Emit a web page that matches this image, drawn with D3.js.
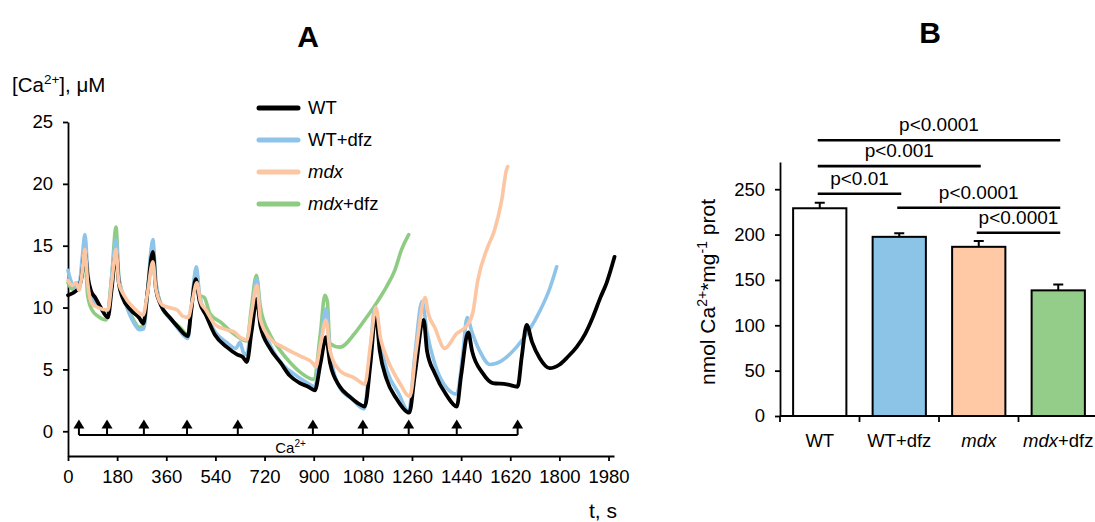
<!DOCTYPE html>
<html>
<head>
<meta charset="utf-8">
<script src="https://cdn.jsdelivr.net/npm/d3@7"></script>
<style>
  body { margin: 0; background: #fff; }
  text { font-family: "Liberation Sans", Arial, sans-serif; fill: #000; }
</style>
</head>
<body>
<svg width="1095" height="522"></svg>
<script>
// ---- Panel A: [Ca2+] traces, [t (s), uM] ----
const wt = [[0,11.0],[20,11.2],[40,11.6],[50,12.5],[62,14.5],[72,12.5],[85,11.3],[100,10.8],[120,10.0],[146,9.2],[160,11.5],[176,14.5],[186,12.0],[200,10.8],[230,9.8],[260,9.2],[276,8.7],[290,11.0],[311,14.5],[322,11.5],[340,10.2],[373,9.2],[400,8.5],[439,7.7],[450,9.5],[468,12.3],[482,10.5],[505,9.4],[538,7.8],[582,6.8],[620,6.2],[640,6.0],[655,5.6],[672,8.0],[692,10.7],[705,8.5],[740,6.7],[780,5.5],[812,4.5],[849,3.9],[880,3.6],[904,3.3],[925,5.5],[945,7.6],[960,5.5],[996,3.6],[1032,2.8],[1060,2.3],[1087,2.0],[1108,5.5],[1127,9.5],[1142,6.5],[1167,4.2],[1204,2.6],[1230,1.8],[1250,1.5],[1270,4.5],[1303,9.0],[1315,6.5],[1343,4.7],[1387,2.9],[1424,2.0],[1440,4.5],[1466,8.0],[1480,6.5],[1519,4.7],[1556,3.9],[1607,3.8],[1647,3.6],[1662,6.0],[1680,8.6],[1700,7.2],[1728,5.9],[1764,5.1],[1801,5.4],[1830,6.0],[1863,6.8],[1895,7.9],[1922,9.2],[1950,10.8],[1973,12.0],[2002,14.1]];
const wtDfz = [[0,13.0],[10,12.2],[25,11.6],[42,12.0],[52,14.0],[62,15.9],[72,13.0],[88,10.8],[110,10.2],[146,9.4],[160,12.5],[176,15.5],[186,12.5],[205,10.8],[240,8.8],[262,8.2],[278,8.3],[292,11.5],[311,15.5],[322,12.0],[345,10.0],[380,9.0],[410,8.1],[439,7.5],[452,10.0],[470,13.3],[482,11.0],[505,9.5],[540,8.0],[580,7.2],[615,6.7],[630,7.2],[642,6.4],[655,6.2],[672,9.0],[692,12.3],[705,9.0],[740,7.0],[790,5.3],[830,4.6],[870,4.0],[904,3.6],[925,7.0],[945,9.9],[960,6.5],[996,3.5],[1040,2.6],[1085,1.8],[1106,6.0],[1124,10.0],[1140,7.5],[1170,4.8],[1210,3.1],[1248,1.6],[1270,6.0],[1297,10.5],[1315,8.0],[1343,5.5],[1387,3.5],[1424,3.0],[1445,6.0],[1462,9.2],[1480,8.0],[1508,6.5],[1545,5.4],[1570,5.5],[1643,6.8],[1690,8.2],[1728,9.7],[1764,11.5],[1790,13.3]];
const mdx = [[0,12.2],[15,11.8],[30,12.0],[40,11.4],[50,12.5],[62,14.7],[72,12.0],[88,10.3],[110,10.0],[146,9.8],[160,12.0],[176,14.7],[186,12.0],[205,11.0],[240,10.0],[275,9.4],[290,11.0],[311,13.7],[322,11.5],[345,10.2],[370,10.0],[400,9.8],[420,9.3],[440,9.2],[455,10.5],[472,12.0],[485,10.5],[505,9.8],[540,8.6],[582,8.2],[611,8.0],[630,7.6],[655,7.4],[672,9.5],[692,11.8],[705,9.0],[740,7.5],[787,6.8],[849,6.1],[897,5.5],[907,5.2],[925,7.0],[945,9.0],[960,6.5],[996,4.9],[1050,4.3],[1087,3.8],[1108,7.0],[1128,10.0],[1145,7.5],[1167,6.0],[1215,3.9],[1252,2.8],[1275,6.5],[1308,10.8],[1320,9.5],[1343,8.4],[1380,6.7],[1424,7.9],[1460,8.5],[1483,9.6],[1501,12.2],[1534,14.7],[1563,16.3],[1588,18.6],[1607,21.2],[1611,21.4]];
const mdxDfz = [[0,12.0],[15,11.5],[30,12.0],[45,12.0],[62,14.0],[72,11.0],[88,9.8],[110,9.3],[140,9.0],[160,12.5],[176,16.5],[186,12.5],[205,10.8],[240,9.0],[262,8.4],[278,8.5],[292,11.5],[311,15.0],[322,12.0],[345,10.0],[380,9.0],[410,8.4],[439,7.8],[452,10.0],[470,13.0],[482,11.0],[500,10.8],[520,9.5],[560,8.8],[600,8.0],[640,7.4],[655,7.3],[672,10.0],[690,12.6],[705,10.0],[740,7.8],[775,6.6],[812,5.6],[849,4.8],[900,4.2],[925,8.0],[941,11.0],[950,10.5],[959,7.1],[996,6.8],[1050,7.9],[1087,9.0],[1131,10.4],[1167,11.7],[1197,13.0],[1222,14.7],[1248,15.9]];
const caTimes = [40, 143, 278, 436, 622, 897, 1080, 1248, 1424, 1647];
const xTicksA = [0, 180, 360, 540, 720, 900, 1080, 1260, 1440, 1620, 1800, 1980];
const yTicksA = [0, 5, 10, 15, 20, 25];

// ---- Panel B: Ca2+ capacity ----
const categories = ["WT", "WT+dfz", "mdx", "mdx+dfz"];
const capacity = [229, 197.5, 186.5, 138.5];
const capacityErr = [6, 4, 6.5, 6.5];
const yTicksB = [0, 50, 100, 150, 200, 250];
const sigFrom = ["WT", "WT", "WT", "WT+dfz", "mdx"];
const sigTo = ["mdx+dfz", "mdx", "WT+dfz", "mdx+dfz", "mdx+dfz"];
const sigLevel = [304, 275.5, 245, 229.5, 202];
const sigLabel = ["p<0.0001", "p<0.001", "p<0.01", "p<0.0001", "p<0.0001"];

const colors = { "WT": "#000000", "WT+dfz": "#8ec4e9", "mdx": "#fdc6a3", "mdx+dfz": "#8fcc83" };
const barFill = { "WT": "#ffffff", "WT+dfz": "#8cc4e8", "mdx": "#ffc9a6", "mdx+dfz": "#94cd89" };

const svg = d3.select("svg");

// italic "mdx" inside a label
function catLabel(sel, d) {
    sel.text(null);
    if (d.startsWith("mdx")) {
        sel.append("tspan").attr("font-style", "italic").text("mdx");
        if (d.length > 3) sel.append("tspan").text(d.slice(3));
    } else {
        sel.text(d);
    }
}

// titles
svg.append("text").attr("x", 308).attr("y", 47).attr("text-anchor", "middle")
    .attr("font-size", 30).attr("font-weight", "bold").text("A");
svg.append("text").attr("x", 930).attr("y", 43).attr("text-anchor", "middle")
    .attr("font-size", 30).attr("font-weight", "bold").text("B");

// ================= Panel A =================
const xA = d3.scaleLinear().domain([0, 2000]).range([68, 614]);
const yA = d3.scaleLinear().domain([-2, 25]).range([456, 122]);

const gA = svg.append("g");

gA.append("g")
    .attr("transform", `translate(0,${yA(-2)})`)
    .call(d3.axisBottom(xA).tickValues(xTicksA).tickFormat(d3.format("d"))
        .tickSize(5).tickSizeOuter(0).tickPadding(9))
    .call(g => g.selectAll("text").attr("font-size", 18.5).attr("font-family", null));

gA.append("g")
    .attr("transform", `translate(${xA(0)},0)`)
    .call(d3.axisLeft(yA).tickValues(yTicksA).tickSize(5).tickSizeOuter(0).tickPadding(10))
    .call(g => g.selectAll("text").attr("font-size", 18.5).attr("font-family", null));

gA.selectAll(".domain, .tick line").attr("stroke", "#000").attr("stroke-width", 1.8);

// axis labels
const yLab = gA.append("text").attr("x", 12).attr("y", 92).attr("font-size", 20.5);
yLab.append("tspan").text("[Ca");
yLab.append("tspan").attr("dy", -8).attr("font-size", 13.5).text("2+");
yLab.append("tspan").attr("dy", 8).text("], μM");
gA.append("text").attr("x", 589).attr("y", 518).attr("font-size", 21).text("t, s");

// traces
const line = d3.line().curve(d3.curveMonotoneX).x(d => xA(d[0])).y(d => yA(d[1]));
const traces = [
    { name: "mdx+dfz", data: mdxDfz },
    { name: "WT+dfz", data: wtDfz },
    { name: "WT", data: wt },
    { name: "mdx", data: mdx }
];
gA.selectAll(".trace").data(traces).join("path")
    .attr("class", "trace")
    .attr("d", d => line(d.data))
    .attr("fill", "none")
    .attr("stroke", d => colors[d.name])
    .attr("stroke-width", d => d.name === "WT" ? 3.8 : 3.6)
    .attr("stroke-linejoin", "round")
    .attr("stroke-linecap", "round");

// Ca2+ additions
gA.append("line")
    .attr("x1", xA(caTimes[0])).attr("x2", xA(caTimes[caTimes.length - 1]))
    .attr("y1", yA(-0.3)).attr("y2", yA(-0.3))
    .attr("stroke", "#000").attr("stroke-width", 2);
const arrows = gA.selectAll(".arrow").data(caTimes).join("g")
    .attr("class", "arrow")
    .attr("transform", d => `translate(${xA(d)},${yA(0.95)})`);
arrows.append("line").attr("y1", 5).attr("y2", yA(-0.3) - yA(0.95))
    .attr("stroke", "#000").attr("stroke-width", 2);
arrows.append("path").attr("d", "M0,0 L-5.5,9 L5.5,9 Z").attr("fill", "#000");
const caLab = gA.append("text").attr("x", xA(815)).attr("y", yA(-1.75))
    .attr("text-anchor", "middle").attr("font-size", 15);
caLab.append("tspan").text("Ca");
caLab.append("tspan").attr("dy", -6).attr("font-size", 10).text("2+");

// legend
const legend = gA.selectAll(".legend").data(categories).join("g")
    .attr("class", "legend")
    .attr("transform", (d, i) => `translate(259,${108 + i * 32})`);
legend.append("line").attr("x1", 0).attr("x2", 39)
    .attr("stroke", d => colors[d]).attr("stroke-width", 5).attr("stroke-linecap", "round");
legend.append("text").attr("x", 49).attr("y", 6).attr("font-size", 18.5)
    .each(function (d) { catLabel(d3.select(this), d); });

// ================= Panel B =================
const xB = d3.scaleBand().domain(categories).range([780, 1098]).paddingInner(0.33).paddingOuter(0.165);
const yB = d3.scaleLinear().domain([0, 280]).range([416, 162]);
const gB = svg.append("g");

gB.append("g")
    .attr("transform", `translate(780,0)`)
    .call(d3.axisLeft(yB).tickValues(yTicksB).tickSize(5).tickSizeOuter(0).tickPadding(10))
    .call(g => g.selectAll("text").attr("font-size", 18.5).attr("font-family", null));

const xAxisB = gB.append("g")
    .attr("transform", `translate(0,${yB(0)})`)
    .call(d3.axisBottom(xB).tickSize(0).tickSizeOuter(0).tickPadding(18));
xAxisB.select(".domain").attr("d", "M780,0H1095");
xAxisB.selectAll("text").attr("font-size", 18.5).attr("font-family", null)
    .each(function (d) { catLabel(d3.select(this), d); });
// category boundary ticks
gB.selectAll(".btick").data(d3.range(0, 4)).join("line")
    .attr("class", "btick")
    .attr("x1", i => xB.range()[0] + i * xB.step()).attr("x2", i => xB.range()[0] + i * xB.step())
    .attr("y1", yB(0)).attr("y2", yB(0) + 6)
    .attr("stroke", "#000").attr("stroke-width", 1.8);
gB.selectAll(".domain, .tick line").attr("stroke", "#000").attr("stroke-width", 1.8);

const barData = categories.map((c, i) => ({ c, v: capacity[i], e: capacityErr[i] }));
gB.selectAll(".err").data(barData).join("path")
    .attr("class", "err")
    .attr("d", d => {
        const cx = xB(d.c) + xB.bandwidth() / 2;
        return `M${cx},${yB(d.v)}V${yB(d.v + d.e)}M${cx - 5},${yB(d.v + d.e)}H${cx + 5}`;
    })
    .attr("stroke", "#000").attr("stroke-width", 2).attr("fill", "none");
gB.selectAll(".bar").data(barData).join("rect")
    .attr("class", "bar")
    .attr("x", d => xB(d.c)).attr("width", xB.bandwidth())
    .attr("y", d => yB(d.v)).attr("height", d => yB(0) - yB(d.v))
    .attr("fill", d => barFill[d.c]).attr("stroke", "#000").attr("stroke-width", 2);

// significance brackets
const center = c => xB(c) + xB.bandwidth() / 2;
const sig = gB.selectAll(".sig").data(sigLabel.map((l, i) => i)).join("g").attr("class", "sig");
sig.append("line")
    .attr("x1", i => center(sigFrom[i]) - 2).attr("x2", i => center(sigTo[i]) + 2)
    .attr("y1", i => yB(sigLevel[i])).attr("y2", i => yB(sigLevel[i]))
    .attr("stroke", "#000").attr("stroke-width", 2.6);
sig.append("text")
    .attr("x", i => (center(sigFrom[i]) + center(sigTo[i])) / 2)
    .attr("y", i => yB(sigLevel[i]) - 9)
    .attr("text-anchor", "middle").attr("font-size", 19)
    .text(i => sigLabel[i]);

// y label B
const yLabB = gB.append("text")
    .attr("transform", `translate(715,292) rotate(-90)`)
    .attr("text-anchor", "middle").attr("font-size", 21);
yLabB.append("tspan").text("nmol Ca");
yLabB.append("tspan").attr("dy", -8).attr("font-size", 14).text("2+");
yLabB.append("tspan").attr("dy", 8).text("*mg");
yLabB.append("tspan").attr("dy", -8).attr("font-size", 14).text("-1");
yLabB.append("tspan").attr("dy", 8).text(" prot");
</script>
</body>
</html>
